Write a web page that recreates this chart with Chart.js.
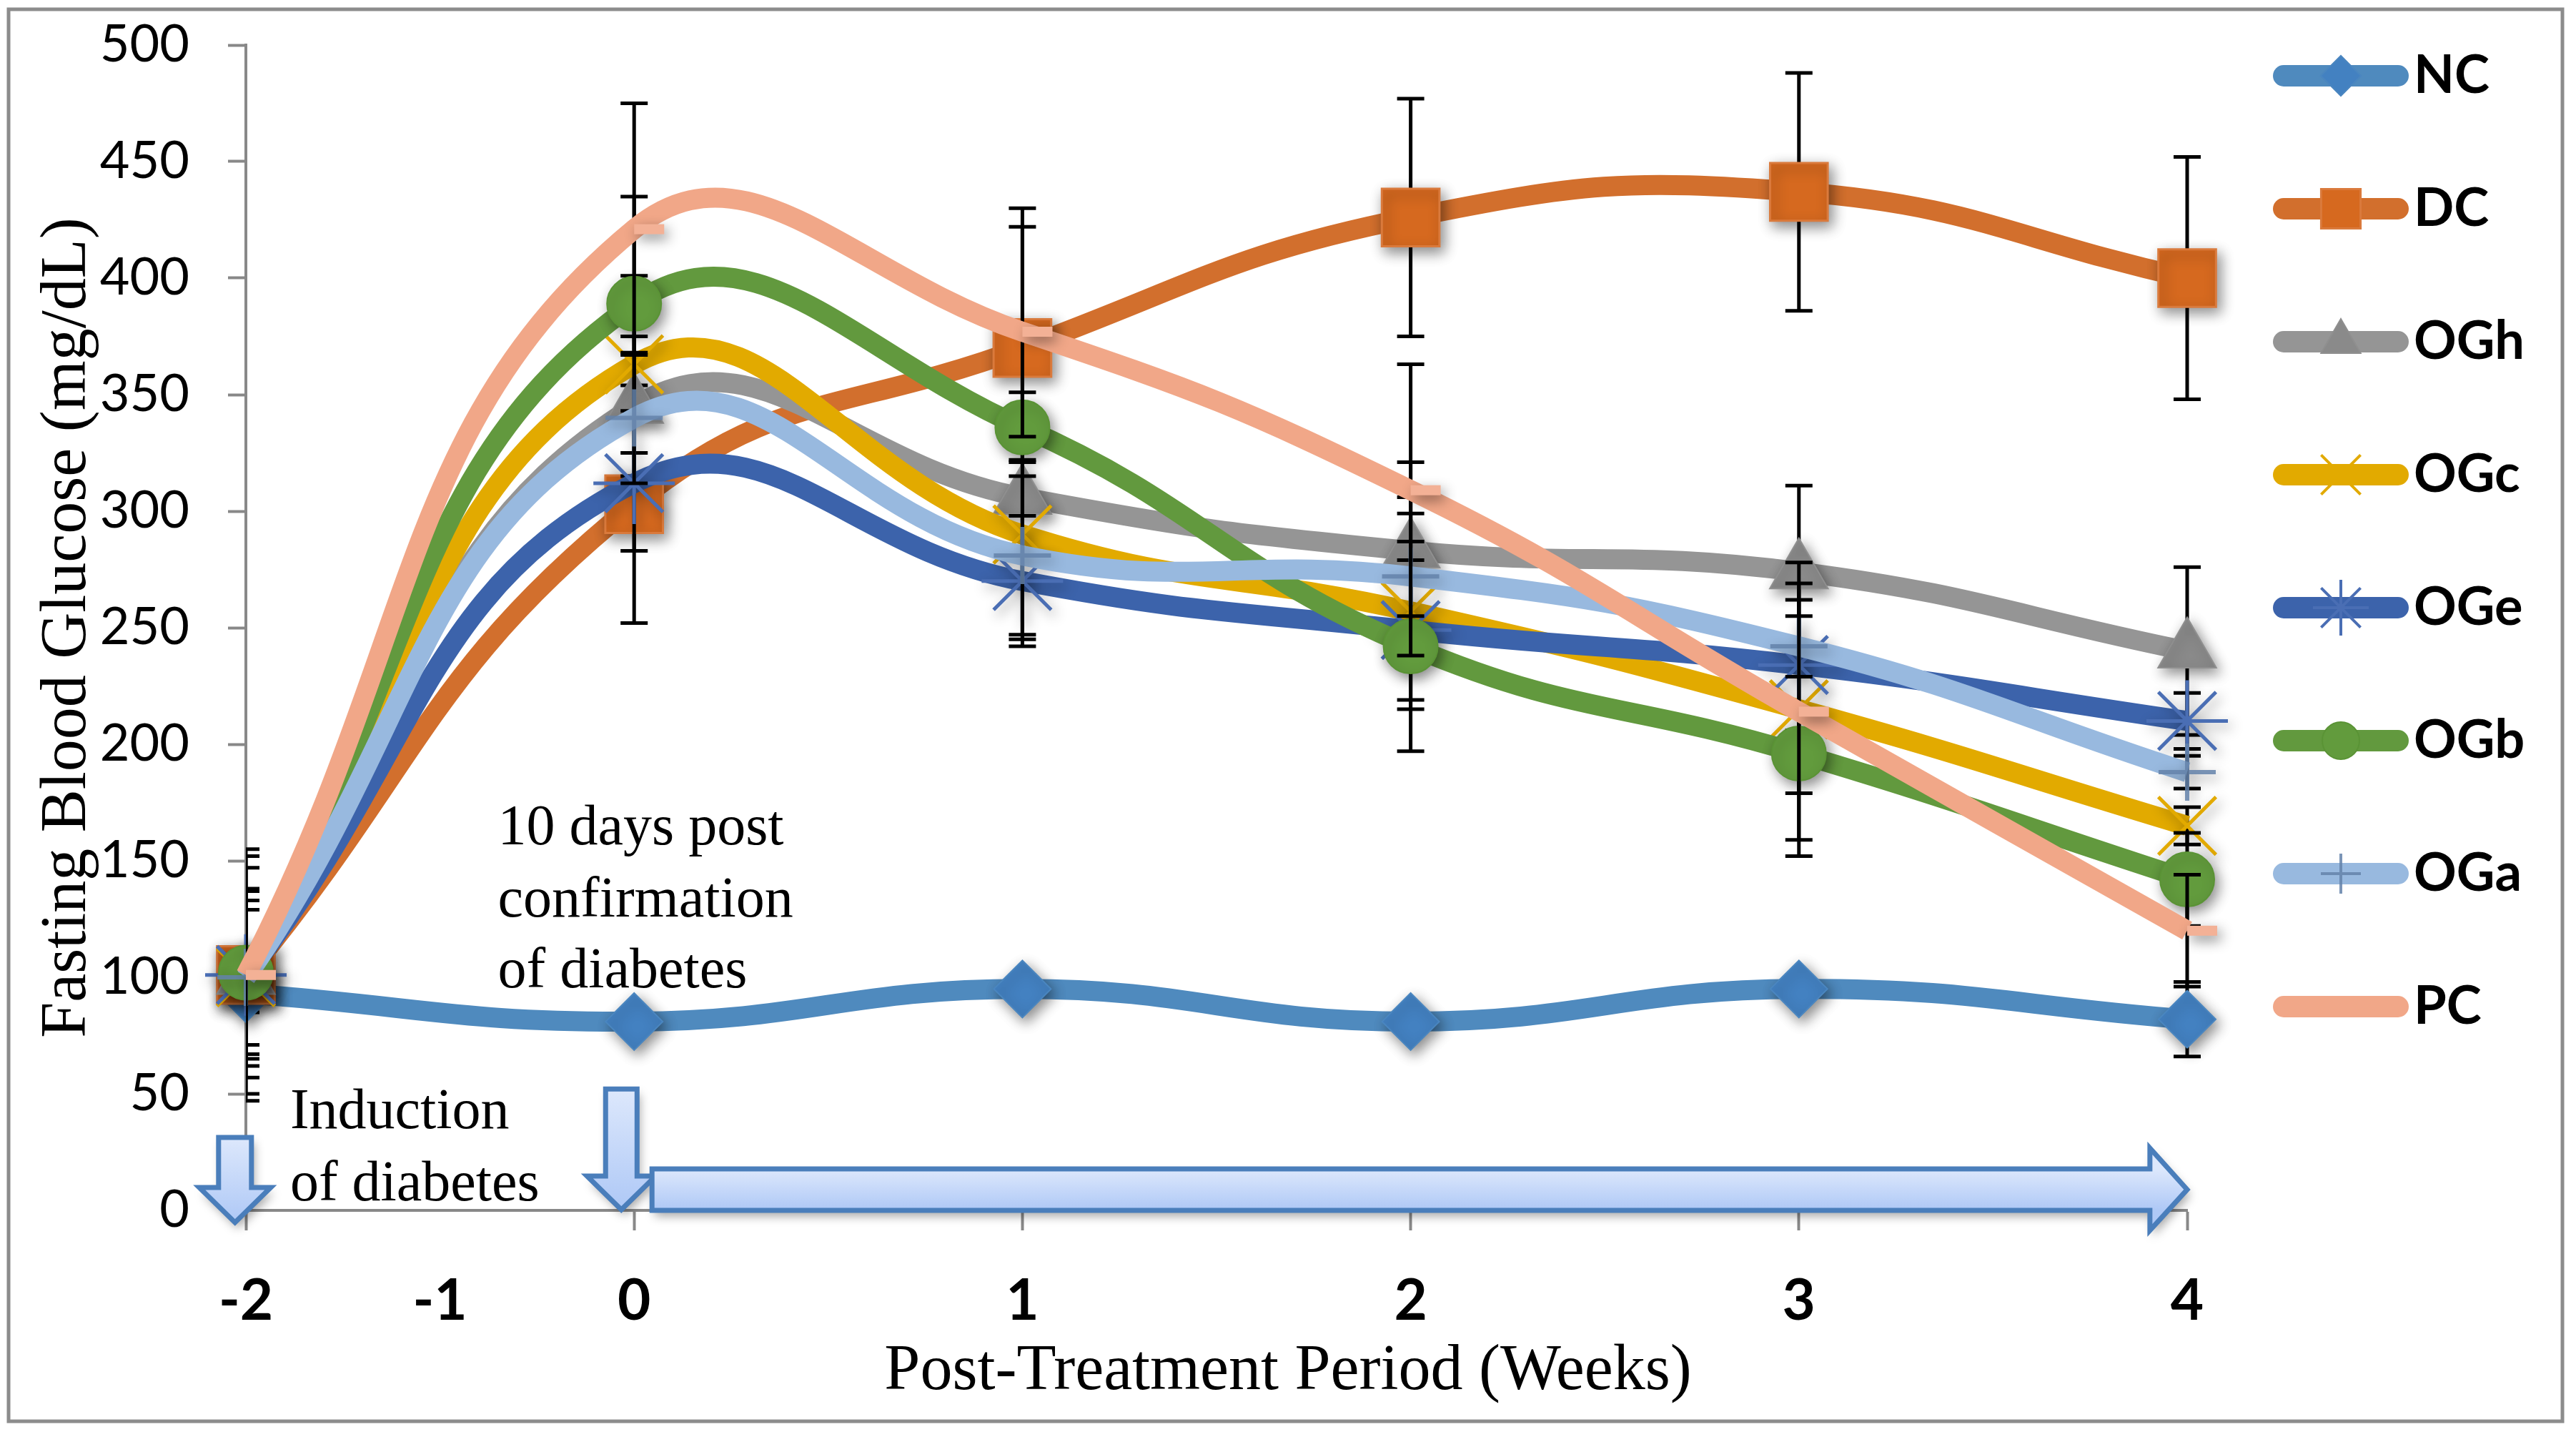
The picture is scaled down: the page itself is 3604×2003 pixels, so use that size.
<!DOCTYPE html>
<html>
<head>
<meta charset="utf-8">
<script src="https://cdn.jsdelivr.net/npm/chart.js@4.4.1/dist/chart.umd.min.js"></script>
<style>
html,body{margin:0;padding:0;background:#fff;}
#wrap{position:relative;width:3604px;height:2003px;}
canvas{display:block;}
</style>
</head>
<body>
<div id="wrap"><canvas id="c" width="3604" height="2003" style="width:3604px;height:2003px"></canvas></div>
<script>
// ---------------- DATA ----------------
const WEEKS = ['-2', '0', '1', '2', '3', '4'];            // measured time points (categories)
const X_TICK_POS = [0, 0.5, 1, 2, 3, 4, 5];               // tick slots on the category index axis
const X_TICK_LABELS = ['-2', '-1', '0', '1', '2', '3', '4'];
const Y_TICKS = [0, 50, 100, 150, 200, 250, 300, 350, 400, 450, 500];

const SERIES_NAMES = ['NC', 'DC', 'OGh', 'OGc', 'OGe', 'OGb', 'OGa', 'PC'];
const NC  = [93, 81, 95, 81, 95, 82];
const DC  = [101, 303, 370, 426, 437, 400];
const OGh = [100, 345, 306, 283, 274, 240];
const OGc = [100, 363, 290, 257, 215, 165];
const OGe = [101, 312, 270, 249, 234, 210];
const OGb = [102, 389, 336, 242, 196, 142];
const OGa = [100, 340, 281, 272, 242, 188];
const PC  = [101, 421, 377, 309, 214, 120];

const NC_ERR  = [8, 6, 6, 6, 6, 16];
const DC_ERR  = [51, 51, 60, 51, 51, 52];
const OGh_ERR = [38, 30, 16, 38, 37, 36];
const OGc_ERR = [33, 38, 45, 42, 63, 8];
const OGe_ERR = [36, 29, 28, 30, 28, 12];
const OGb_ERR = [45, 46, 15, 45, 17, 20];
const OGa_ERR = [29, 28, 34, 34, 13, 7];
const PC_ERR  = [54, 54, 45, 54, 55, 24];

const VALUES = [NC, DC, OGh, OGc, OGe, OGb, OGa, PC];
const ERRORS = [NC_ERR, DC_ERR, OGh_ERR, OGc_ERR, OGe_ERR, OGb_ERR, OGa_ERR, PC_ERR];

// ---------------- STYLE ----------------
function dashImage(w, h, color) {
  const c = document.createElement('canvas');
  c.width = w * 2 + 4; c.height = h + 4;
  const g = c.getContext('2d');
  g.fillStyle = color;
  g.fillRect(w + 2, 2, w, h);
  return c;
}
const STYLE = {
  NC:  {line: '#4F8ABE', style: 'rectRot',  r: 40, fill: '#4381C1', stroke: '#4A86C0', bw: 2, lr: 28, lbw: 2},
  DC:  {line: '#D26F2D', style: 'rect',     r: 57, fill: '#D6691F', stroke: '#DA7A3C', bw: 3, lr: 39, lbw: 3},
  OGh: {line: '#959595', style: 'triangle', r: 47, fill: '#8A8A8A', stroke: '#8F8F8F', bw: 2, lr: 32, lbw: 2},
  OGc: {line: '#E2AA00', style: 'crossRot', r: 57, fill: '#E2AA00', stroke: '#E2AA00', bw: 5, lr: 39, lbw: 4},
  OGe: {line: '#3C63AB', style: 'star',     r: 57, fill: '#4468B0', stroke: '#4A6EB4', bw: 5, lr: 39, lbw: 4},
  OGb: {line: '#62993E', style: 'circle',   r: 38, fill: '#629B3D', stroke: '#5A9335', bw: 2, lr: 26, lbw: 2},
  OGa: {line: '#98B9DF', style: 'cross',    r: 40, fill: '#6F8DB5', stroke: 'rgba(100,130,170,0.85)', bw: 6, lr: 28, lbw: 4},
  PC:  {line: '#F1A788', style: dashImage(42, 14, '#F3B196'), r: 20, fill: '#F3B196', stroke: '#F3B196', bw: 0, lr: 0, lbw: 0}
};

// marker drop shadows (Excel-like)
const PointEl = (Chart.elements && Chart.elements.PointElement) || Chart.PointElement || Chart.registry.getElement('point');
if (PointEl && !PointEl.prototype.__shadowed) {
  const od = PointEl.prototype.draw;
  PointEl.prototype.draw = function (ctx, area) {
    ctx.save();
    ctx.shadowColor = 'rgba(0,0,0,0.45)';
    ctx.shadowBlur = 18;
    ctx.shadowOffsetX = 5;
    ctx.shadowOffsetY = 7;
    od.call(this, ctx, area);
    ctx.restore();
  };
  PointEl.prototype.__shadowed = true;
}

const datasets = SERIES_NAMES.map((name, i) => {
  const s = STYLE[name];
  return {
    label: name,
    data: VALUES[i].map((v, j) => ({x: j, y: v})),
    borderColor: s.line,
    backgroundColor: s.line,
    borderWidth: 28,
    tension: 0.45,
    fill: false,
    clip: false,
    pointStyle: s.style,
    pointRadius: s.r,
    pointHoverRadius: s.r,
    pointBackgroundColor: s.fill,
    pointBorderColor: s.stroke,
    pointBorderWidth: s.bw,
    order: SERIES_NAMES.length - 1 - i
  };
});

// ---------------- PLUGINS ----------------
const errorBars = {
  id: 'errorBars',
  beforeDatasetDraw(chart, args) {
    const i = args.index, meta = args.meta;
    const y = chart.scales.y, ctx = chart.ctx, a = chart.chartArea;
    ctx.save();
    ctx.beginPath();
    ctx.rect(a.left, 0, a.right - a.left + 40, chart.height);
    ctx.clip();
    ctx.strokeStyle = '#000';
    ctx.lineWidth = 5;
    meta.data.forEach((pt, j) => {
      const v = VALUES[i][j], e = ERRORS[i][j];
      const yt = y.getPixelForValue(v + e), yb = y.getPixelForValue(v - e);
      ctx.beginPath();
      ctx.moveTo(pt.x, yt); ctx.lineTo(pt.x, yb);
      ctx.moveTo(pt.x - 19, yt); ctx.lineTo(pt.x + 19, yt);
      ctx.moveTo(pt.x - 19, yb); ctx.lineTo(pt.x + 19, yb);
      ctx.stroke();
    });
    ctx.restore();
  }
};

function downArrow(ctx, cx, yTop, yHead, yTip, hs, hh) {
  ctx.beginPath();
  ctx.moveTo(cx - hs, yTop); ctx.lineTo(cx + hs, yTop); ctx.lineTo(cx + hs, yHead);
  ctx.lineTo(cx + hh, yHead); ctx.lineTo(cx, yTip); ctx.lineTo(cx - hh, yHead);
  ctx.lineTo(cx - hs, yHead); ctx.closePath();
}
function rightArrow(ctx, xL, xHead, xTip, yT, yB, yHT, yHB, yMid) {
  ctx.beginPath();
  ctx.moveTo(xL, yT); ctx.lineTo(xHead, yT); ctx.lineTo(xHead, yHT); ctx.lineTo(xTip, yMid);
  ctx.lineTo(xHead, yHB); ctx.lineTo(xHead, yB); ctx.lineTo(xL, yB); ctx.closePath();
}
function paintArrow(ctx, y0, y1) {
  const g = ctx.createLinearGradient(0, y0, 0, y1);
  g.addColorStop(0, '#DDE8FC');
  g.addColorStop(1, '#AEC8F6');
  ctx.save();
  ctx.shadowColor = 'rgba(0,0,0,0.35)'; ctx.shadowBlur = 14; ctx.shadowOffsetX = 4; ctx.shadowOffsetY = 8;
  ctx.fillStyle = g; ctx.fill();
  ctx.restore();
  ctx.save();
  ctx.strokeStyle = '#4A7EBB'; ctx.lineWidth = 7; ctx.lineJoin = 'miter';
  ctx.stroke();
  ctx.restore();
}

const decor = {
  id: 'decor',
  beforeDraw(chart) {
    const ctx = chart.ctx;
    ctx.save(); ctx.fillStyle = '#fff'; ctx.fillRect(0, 0, chart.width, chart.height); ctx.restore();
  },
  afterDraw(chart) {
    const ctx = chart.ctx, x = chart.scales.x, y = chart.scales.y;
    const X = v => x.getPixelForValue(v), Y = v => y.getPixelForValue(v);

    // arrows
    downArrow(ctx, X(-0.028), Y(31.3), Y(9.8), Y(-5.2), 23, 50);
    paintArrow(ctx, Y(31.3), Y(-5.2));
    downArrow(ctx, X(0.967), Y(52.1), Y(14.7), Y(0.3), 22, 48);
    paintArrow(ctx, Y(52.1), Y(0.3));
    rightArrow(ctx, X(1.046), X(4.904), X(5), Y(17.8), Y(0), Y(26.7), Y(-8.6), Y(8.9));
    paintArrow(ctx, Y(17.8), Y(0));

    // annotation texts
    ctx.save();
    ctx.fillStyle = '#000';
    ctx.font = "80px 'Liberation Serif', serif";
    ctx.textAlign = 'left'; ctx.textBaseline = 'alphabetic';
    ctx.fillText('Induction', X(0.114), Y(35.3));
    ctx.fillText('of diabetes', X(0.114), Y(4.3));
    ctx.fillText('10 days post', X(0.649), Y(157.1));
    ctx.fillText('confirmation', X(0.649), Y(126.1));
    ctx.fillText('of diabetes', X(0.649), Y(95.7));
    ctx.restore();

    // legend
    const L0 = 106, LDY = 186;
    SERIES_NAMES.forEach((name, i) => {
      const s = STYLE[name];
      const cy = L0 + i * LDY;
      ctx.save();
      ctx.strokeStyle = s.line; ctx.lineWidth = 30; ctx.lineCap = 'round';
      ctx.beginPath(); ctx.moveTo(3195, cy); ctx.lineTo(3355, cy); ctx.stroke();
      if (s.lr > 0 && Chart.helpers && Chart.helpers.drawPoint) {
        ctx.fillStyle = s.fill; ctx.strokeStyle = s.stroke; ctx.lineWidth = s.lbw; ctx.lineCap = 'butt';
        Chart.helpers.drawPoint(ctx, {pointStyle: s.style, radius: s.lr, borderWidth: s.lbw, rotation: 0}, 3275, cy);
      }
      ctx.fillStyle = '#000';
      ctx.font = "bold 74px Lato, 'Open Sans', sans-serif";
      ctx.textAlign = 'left'; ctx.textBaseline = 'middle';
      ctx.fillText(name, 3377, cy);
      ctx.restore();
    });

    // outer frame
    ctx.save();
    ctx.strokeStyle = '#8C8C8C'; ctx.lineWidth = 5;
    ctx.strokeRect(12, 13, 3573, 1975);
    ctx.restore();
  }
};

// ---------------- CHART ----------------
new Chart(document.getElementById('c'), {
  type: 'line',
  data: {datasets},
  options: {
    responsive: false,
    devicePixelRatio: 1,
    animation: false,
    events: [],
    layout: {padding: {top: 63, bottom: 30, left: 0, right: 0}},
    plugins: {
      legend: {display: false},
      tooltip: {enabled: false},
      title: {
        display: true, position: 'bottom',
        text: 'Post-Treatment Period (Weeks)',
        font: {family: "'Liberation Serif', serif", size: 90, weight: 'normal'},
        color: '#000', padding: {top: 0, bottom: 0}
      }
    },
    scales: {
      x: {
        type: 'linear', min: 0, max: 5,
        afterBuildTicks(s) { s.ticks = X_TICK_POS.map(v => ({value: v})); },
        afterFit(s) { s.height = 172; },
        ticks: {
          callback: (v) => { const k = X_TICK_POS.indexOf(v); return k >= 0 ? X_TICK_LABELS[k] : ''; },
          font: {family: "Lato, 'Open Sans', sans-serif", size: 80, weight: 'bold'},
          color: '#000', padding: 51, maxRotation: 0, autoSkip: false
        },
        grid: {
          drawOnChartArea: false, drawTicks: true, tickLength: 28, tickWidth: 4,
          tickColor: (c) => (c.tick && c.tick.value === 0.5) ? 'rgba(0,0,0,0)' : '#888'
        },
        border: {color: '#888', width: 4}
      },
      y: {
        type: 'linear', min: 0, max: 500,
        afterBuildTicks(s) { s.ticks = Y_TICKS.map(v => ({value: v})); },
        afterFit(s) { s.width = 344; s.paddingTop = 40; s.paddingBottom = 40; },
        ticks: {font: {family: "Lato, 'Open Sans', sans-serif", size: 72}, color: '#000', padding: 54},
        grid: {drawOnChartArea: false, tickLength: 25, tickWidth: 4, tickColor: '#888'},
        border: {color: '#888', width: 4},
        title: {
          display: true, text: 'Fasting Blood Glucose (mg/dL)',
          font: {family: "'Liberation Serif', serif", size: 90, weight: 'normal'},
          color: '#000', padding: {top: 41, bottom: 0}
        }
      },
      legendSpace: {
        type: 'linear', position: 'right', display: true, min: 0, max: 1,
        afterFit(s) { s.width = 544; },
        ticks: {display: false}, grid: {display: false}, border: {display: false}
      }
    }
  },
  plugins: [errorBars, decor]
});
</script>
</body>
</html>
